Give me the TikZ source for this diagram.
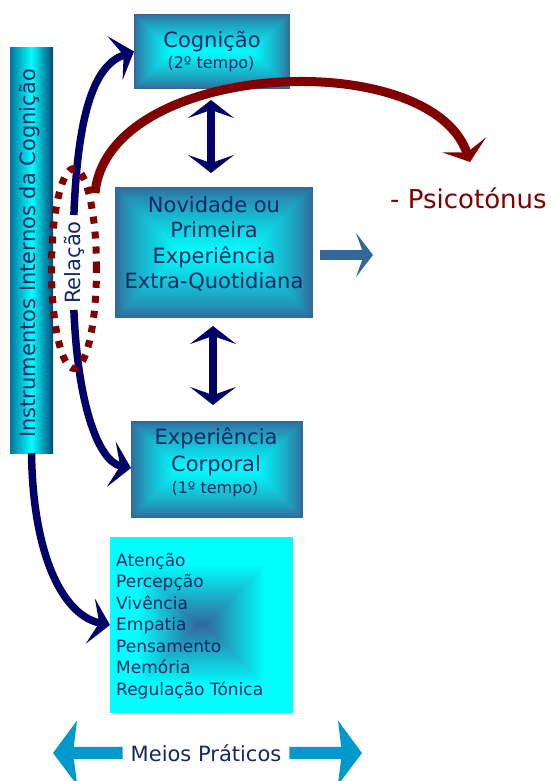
\documentclass[tikz,border=0pt]{standalone}
\usepackage{fontspec}
\setmainfont{DejaVu Sans}
\usetikzlibrary{arrows.meta,shapes.geometric}

\definecolor{navyline}{RGB}{0,0,102}
\definecolor{txtnavy}{RGB}{22,40,100}
\definecolor{steel}{RGB}{51,102,153}
\definecolor{aqua}{RGB}{0,255,255}
\definecolor{darkred}{RGB}{128,0,0}
\definecolor{skyarrow}{RGB}{0,153,204}
\definecolor{barleft}{RGB}{0,118,160}
\definecolor{barright}{RGB}{0,72,120}

% Rectangular "from centre" gradient built from nested rectangles.
% #1,#2: top-left corner, #3,#4: bottom-right corner, #5: half of the short side
\newcommand\glowfill[5]{%
  \foreach \i [evaluate=\i as \d using #5*\i/50,
               evaluate=\i as \p using {100*(\i/50)^0.75}] in {0,...,49}{
    \fill[aqua!\p!steel] (#1+\d,#2+\d) rectangle (#3-\d,#4-\d);
  }}
% Same construction, aqua outside and steel blue towards the centre
\newcommand\darkcentrefill[5]{%
  \foreach \i [evaluate=\i as \d using #5*\i/50,
               evaluate=\i as \p using {min(100,100*(50-\i)/35)}] in {0,...,49}{
    \fill[aqua!\p!steel] (#1+\d,#2+\d) rectangle (#3-\d,#4-\d);
  }}

\tikzset{
  framebox/.style={inner sep=0pt, outer sep=0pt},
  barbox/.style={shade, left color=barleft, right color=barright, middle color=aqua,
    inner sep=0pt, outer sep=0pt, minimum width=43pt, minimum height=405pt},
  bigtxt/.style={text=txtnavy, font=\fontsize{21pt}{25pt}\selectfont, inner sep=0pt},
  smalltxt/.style={text=txtnavy, font=\fontsize{16pt}{19pt}\selectfont, inner sep=0pt},
  listtxt/.style={text=txtnavy, font=\fontsize{17pt}{20pt}\selectfont, inner sep=0pt, anchor=base west},
  curvenavy/.style={draw=navyline, line width=7.5pt,
    -{Stealth[length=20pt, width=46pt, inset=9pt]}},
  twowaynavy/.style={draw=navyline, line width=7.5pt,
    {Stealth[length=18pt, width=46pt, inset=8pt]}-{Stealth[length=18pt, width=46pt, inset=8pt]}},
  redarc/.style={draw=darkred, line width=9pt,
    -{Stealth[length=18pt, width=46pt, inset=8pt]}},
  steelarrow/.style={draw=steel, line width=10pt,
    -{Stealth[length=17pt, width=44pt, inset=8pt]}},
  skyarrowstyle/.style={draw=skyarrow, line width=12pt,
    -{Stealth[length=24pt, width=64pt, inset=4pt]}},
  dotring/.style={draw=darkred, line width=7pt, dash pattern=on 7pt off 8pt,
    ellipse, inner sep=0pt},
}

\begin{document}
\begin{tikzpicture}[x=1pt, y=-1pt]
\useasboundingbox (0,0) rectangle (550,781);

% left column
\node[barbox] (bar) at (31.5,250.5) {};
\node[bigtxt, rotate=90, anchor=base] (instr) at (35,253.5) {Instrumentos Internos da Cognição};

% gradient fills of the boxes
\glowfill{134}{14}{290}{89}{37.5}
\glowfill{115}{187}{313}{318}{65.5}
\glowfill{131}{421}{303}{518}{48.5}
\darkcentrefill{110}{537}{293}{713}{88}

% boxes
\node[framebox, minimum width=156pt, minimum height=75pt] (cog) at (212,51.5) {};
\node[bigtxt, anchor=base] (cogA) at (212,47.5) {Cognição};
\node[smalltxt, anchor=base] (cogB) at (211,68.5) {(2º tempo)};

\node[framebox, minimum width=198pt, minimum height=131pt] (nov) at (214,252.5) {};
\node[bigtxt, anchor=base] (novA) at (214,212) {Novidade ou};
\node[bigtxt, anchor=base] (novB) at (214,237.5) {Primeira};
\node[bigtxt, anchor=base] (novC) at (214,263) {Experiência};
\node[bigtxt, anchor=base] (novD) at (214,288) {Extra-Quotidiana};

\node[framebox, minimum width=172pt, minimum height=97pt] (exp) at (217,469.5) {};
\node[bigtxt, anchor=base] (expA) at (216,444.5) {Experiência};
\node[bigtxt, anchor=base] (expB) at (216,471.5) {Corporal};
\node[smalltxt, anchor=base] (expC) at (215,493.5) {(1º tempo)};

\node[framebox, minimum width=183pt, minimum height=176pt] (list) at (201.5,625) {};
\node[listtxt] (l1) at (116,566) {Atenção};
\node[listtxt] (l2) at (116,587.5) {Percepção};
\node[listtxt] (l3) at (116,609) {Vivência};
\node[listtxt] (l4) at (116,630.5) {Empatia};
\node[listtxt] (l5) at (116,652) {Pensamento};
\node[listtxt] (l6) at (116,673.5) {Memória};
\node[listtxt] (l7) at (116,695) {Regulação Tónica};

% labels
\node[text=darkred, font=\fontsize{26pt}{30pt}\selectfont, inner sep=0pt, anchor=base west]
  (psy) at (390,208) {- Psicotónus};
\node[text=txtnavy, font=\fontsize{21pt}{25pt}\selectfont, rotate=90, anchor=base, inner sep=6pt]
  (rel) at (80,262.5) {Relação};
\node[text=txtnavy, font=\fontsize{21pt}{25pt}\selectfont, inner xsep=8pt, inner ysep=0pt, anchor=base]
  (meios) at (206,761) {Meios Práticos};

% free ends
\coordinate (arcStart) at (95,193);
\coordinate (arcTip) at (470,162);
\coordinate (outTip) at (373,255);
\coordinate (leftTip) at (53,753);
\coordinate (rightTip) at (362,753);

% two-way links between the boxes
\draw[twowaynavy] ([xshift=-1pt,yshift=-11pt]cog.south) -- ([xshift=-3pt,yshift=14pt]nov.north);
\draw[twowaynavy] ([xshift=-1pt,yshift=-8pt]nov.south) -- ([xshift=-4pt,yshift=16pt]exp.north);

% outward arrow
\draw[steelarrow] ([xshift=7pt,yshift=-2.5pt]nov.east) -- (outTip);

% curved links
\draw[curvenavy] (rel.east) .. controls (78,110) and (95,65) .. (cog.west);
\draw[curvenavy] (rel.west) .. controls (78,410) and (100,462) .. ([yshift=1.5pt]exp.west);
\draw[curvenavy] (bar.south) .. controls (33,560) and (65,616) .. (list.west);

\draw[redarc] (arcStart) .. controls (108,60) and (430,45) .. (arcTip);

% dotted ring round the relation label
\node[dotring, minimum width=45pt, minimum height=200pt] (ring) at (74,268.5) {};

% bottom double arrow
\draw[skyarrowstyle] (meios.west) -- (leftTip);
\draw[skyarrowstyle] (meios.east) -- (rightTip);
\end{tikzpicture}
\end{document}
